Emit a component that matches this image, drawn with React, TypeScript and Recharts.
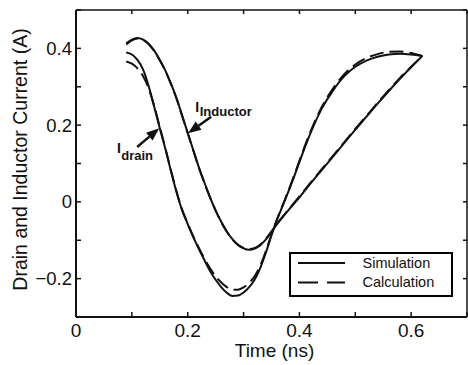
import {
    Legend,
    Line,
    LineChart,
    ReferenceDot,
    ReferenceLine,
    XAxis,
    YAxis
} from "recharts";

// time (ns) / current (A) pairs
const simInductor = [
    [0.09, 0.413], [0.10, 0.423], [0.11, 0.427], [0.12, 0.423], [0.13, 0.412], [0.14, 0.394],
    [0.15, 0.37], [0.16, 0.342], [0.17, 0.308], [0.18, 0.27], [0.19, 0.225], [0.20, 0.18],
    [0.21, 0.135], [0.22, 0.09], [0.23, 0.05], [0.24, 0.012], [0.25, -0.022], [0.26, -0.052],
    [0.27, -0.077], [0.28, -0.097], [0.29, -0.112], [0.30, -0.121], [0.31, -0.125], [0.32, -0.122],
    [0.33, -0.113], [0.34, -0.098], [0.35, -0.078], [0.36, -0.058], [0.38, -0.022], [0.40, 0.012],
    [0.42, 0.048], [0.44, 0.083], [0.46, 0.118], [0.48, 0.153], [0.50, 0.188], [0.52, 0.222],
    [0.54, 0.256], [0.56, 0.289], [0.58, 0.321], [0.60, 0.351], [0.62, 0.38]
];

const calcInductor = [
    [0.09, 0.41], [0.10, 0.421], [0.11, 0.426], [0.12, 0.422], [0.13, 0.411], [0.14, 0.393],
    [0.15, 0.369], [0.16, 0.341], [0.17, 0.307], [0.18, 0.269], [0.19, 0.224], [0.20, 0.179],
    [0.21, 0.134], [0.22, 0.089], [0.23, 0.049], [0.24, 0.011], [0.25, -0.023], [0.26, -0.053],
    [0.27, -0.078], [0.28, -0.098], [0.29, -0.112], [0.30, -0.12], [0.31, -0.123], [0.32, -0.12],
    [0.33, -0.111], [0.34, -0.096], [0.35, -0.077], [0.36, -0.057], [0.38, -0.021], [0.40, 0.014],
    [0.42, 0.05], [0.44, 0.085], [0.46, 0.12], [0.48, 0.155], [0.50, 0.19], [0.52, 0.224],
    [0.54, 0.258], [0.56, 0.291], [0.58, 0.323], [0.60, 0.352], [0.62, 0.38]
];

const simDrain = [
    [0.09, 0.389], [0.10, 0.384], [0.11, 0.37], [0.12, 0.345], [0.13, 0.302], [0.14, 0.248],
    [0.15, 0.192], [0.16, 0.138], [0.17, 0.08], [0.18, 0.025], [0.19, -0.022], [0.20, -0.058],
    [0.21, -0.092], [0.22, -0.123], [0.23, -0.152], [0.24, -0.18], [0.25, -0.203], [0.26, -0.222],
    [0.27, -0.237], [0.28, -0.245], [0.29, -0.244], [0.30, -0.236], [0.31, -0.222], [0.32, -0.202],
    [0.33, -0.172], [0.34, -0.132], [0.35, -0.087], [0.36, -0.046], [0.37, -0.01], [0.38, 0.026],
    [0.39, 0.064], [0.40, 0.104], [0.42, 0.18], [0.44, 0.243], [0.46, 0.29], [0.48, 0.327],
    [0.50, 0.352], [0.52, 0.368], [0.54, 0.378], [0.56, 0.384], [0.58, 0.386], [0.60, 0.384],
    [0.62, 0.38]
];

const calcDrain = [
    [0.09, 0.366], [0.10, 0.36], [0.11, 0.348], [0.12, 0.328], [0.13, 0.296], [0.14, 0.25],
    [0.15, 0.195], [0.16, 0.14], [0.17, 0.082], [0.18, 0.027], [0.19, -0.02], [0.20, -0.056],
    [0.21, -0.09], [0.22, -0.12], [0.23, -0.148], [0.24, -0.173], [0.25, -0.194], [0.26, -0.21],
    [0.27, -0.222], [0.28, -0.229], [0.29, -0.229], [0.30, -0.223], [0.31, -0.211], [0.32, -0.193],
    [0.33, -0.166], [0.34, -0.128], [0.35, -0.085], [0.36, -0.045], [0.37, -0.009], [0.38, 0.028],
    [0.39, 0.067], [0.40, 0.107], [0.42, 0.184], [0.44, 0.247], [0.46, 0.295], [0.48, 0.332],
    [0.50, 0.358], [0.52, 0.375], [0.54, 0.385], [0.56, 0.391], [0.58, 0.392], [0.60, 0.388],
    [0.62, 0.38]
];

const xTicks = [0, 0.1, 0.2, 0.3, 0.4, 0.5, 0.6, 0.7];
const xTickLabels: Record<string, string> = {"0": "0", "0.2": "0.2", "0.4": "0.4", "0.6": "0.6"};
const yTicks = [-0.3, -0.2, -0.1, 0, 0.1, 0.2, 0.3, 0.4, 0.5];
const yTickLabels: Record<string, string> = {"-0.2": "\u22120.2", "0": "0", "0.2": "0.2", "0.4": "0.4"};

const legendItems = [
    {label: "Simulation", dash: undefined},
    {label: "Calculation", dash: "20 9"}
];

// arrow tail -> tip, in data units
const arrows = [
    {from: [0.242, 0.222], to: [0.2005, 0.179]},
    {from: [0.1095, 0.143], to: [0.149, 0.192]}
];

const curveLabels = [
    {main: "I", sub: "Inductor", t: 0.2137, v: 0.235, dy: 4.3},
    {main: "I", sub: "drain", t: 0.0732, v: 0.127, dy: 6.7}
];

const FONT = "'Liberation Sans', Arial, Helvetica, sans-serif";
const INK = "#111";

const toPoints = (rows: number[][]) => rows.map(([t, i]) => ({t, i}));
const blank = () => "";

const ArrowShape = (props: any) => {
    const {x1, y1, x2, y2} = props;
    const dx = x2 - x1;
    const dy = y2 - y1;
    const len = Math.sqrt(dx * dx + dy * dy) || 1;
    const ux = dx / len;
    const uy = dy / len;
    const headLen = 13;
    const half = 5;
    const bx = x2 - ux * headLen;
    const by = y2 - uy * headLen;
    const p1 = `${bx - uy * half},${by + ux * half}`;
    const p2 = `${bx + uy * half},${by - ux * half}`;
    return (
        <g>
            <line x1={x1} y1={y1} x2={bx} y2={by} stroke={INK} strokeWidth={2.5}/>
            <polygon points={`${x2},${y2} ${p1} ${p2}`} fill={INK}/>
        </g>
    );
};

const renderLegend = () => (
    <div style={{border: "2px solid #000", width: 164, height: 45, boxSizing: "border-box", background: "#fff"}}>
        <svg width={160} height={41}>
            {legendItems.map((item, idx) => (
                <g key={item.label}>
                    <line x1={7} x2={54} y1={9 + idx * 19.4} y2={9 + idx * 19.4} stroke={INK} strokeWidth={2}
                          strokeDasharray={item.dash}/>
                    <text x={71.5} y={14 + idx * 19.4} fontSize={14.5} fontFamily={FONT} fill={INK}>{item.label}</text>
                </g>
            ))}
        </svg>
    </div>
);

const App = () => {
    return (
        <div style={{position: "absolute", left: 0, top: 0, width: 468, height: 365, background: "#fff"}}>
            <LineChart width={468} height={365} margin={{top: 9, right: 0, bottom: 0, left: 0}}>
                <XAxis
                    type="number"
                    dataKey="t"
                    domain={[0, 0.7]}
                    ticks={xTicks}
                    interval={0}
                    allowDataOverflow
                    height={48}
                    tickSize={-5}
                    tickMargin={12}
                    tickFormatter={(v) => xTickLabels[String(v)] ?? ""}
                    tick={{fill: INK, fontSize: 19, fontFamily: FONT}}
                    axisLine={{stroke: INK, strokeWidth: 2}}
                    tickLine={{stroke: INK, strokeWidth: 1.5}}
                    label={{
                        content: ({viewBox}: any) => (
                            <text x={viewBox.x + viewBox.width / 2 + 3} y={357} textAnchor="middle"
                                  fontSize={19} fontFamily={FONT} fill={INK}>Time (ns)</text>
                        )
                    }}
                />
                <XAxis
                    xAxisId="top"
                    orientation="top"
                    type="number"
                    dataKey="t"
                    domain={[0, 0.7]}
                    ticks={xTicks}
                    interval={0}
                    allowDataOverflow
                    height={1}
                    tickSize={-4}
                    tickFormatter={blank}
                    axisLine={{stroke: INK, strokeWidth: 1.5}}
                    tickLine={{stroke: INK, strokeWidth: 1.5}}
                />
                <YAxis
                    type="number"
                    domain={[-0.3, 0.5]}
                    ticks={yTicks}
                    interval={0}
                    allowDataOverflow
                    width={76}
                    tickSize={-5}
                    tickMargin={9}
                    tickFormatter={(v) => yTickLabels[String(v)] ?? ""}
                    tick={{fill: INK, fontSize: 18.5, fontFamily: FONT}}
                    axisLine={{stroke: INK, strokeWidth: 2}}
                    tickLine={{stroke: INK, strokeWidth: 1.5}}
                    label={{
                        content: ({viewBox}: any) => (
                            <text transform={`translate(${viewBox.x + 27}, ${viewBox.y + viewBox.height / 2 - 4}) rotate(-90)`}
                                  textAnchor="middle" fontSize={19.5} fontFamily={FONT} fill={INK}>
                                Drain and Inductor Current (A)
                            </text>
                        )
                    }}
                />
                <YAxis
                    yAxisId="right"
                    orientation="right"
                    type="number"
                    domain={[-0.3, 0.5]}
                    ticks={yTicks}
                    interval={0}
                    allowDataOverflow
                    width={1}
                    tickSize={-4}
                    tickFormatter={blank}
                    axisLine={{stroke: INK, strokeWidth: 1.5}}
                    tickLine={{stroke: INK, strokeWidth: 1.5}}
                />
                <Legend layout="vertical" align="center" verticalAlign="middle" content={renderLegend}
                        wrapperStyle={{left: 289, top: 252, width: 164, height: 45}}/>
                <Line data={toPoints(calcInductor)} dataKey="i" type="monotone" stroke={INK} strokeWidth={2}
                      strokeDasharray="14 6" dot={false} activeDot={false} isAnimationActive={false}/>
                <Line data={toPoints(calcDrain)} dataKey="i" type="monotone" stroke={INK} strokeWidth={2}
                      strokeDasharray="14 6" dot={false} activeDot={false} isAnimationActive={false}/>
                <Line data={toPoints(simInductor)} dataKey="i" type="monotone" stroke={INK} strokeWidth={2}
                      dot={false} activeDot={false} isAnimationActive={false}/>
                <Line data={toPoints(simDrain)} dataKey="i" type="monotone" stroke={INK} strokeWidth={2}
                      dot={false} activeDot={false} isAnimationActive={false}/>
                {arrows.map((a, idx) => (
                    <ReferenceLine key={`arrow-${idx}`}
                                   segment={[{x: a.from[0], y: a.from[1]}, {x: a.to[0], y: a.to[1]}]}
                                   shape={ArrowShape}/>
                ))}
                {curveLabels.map((c) => (
                    <ReferenceDot key={c.sub} x={c.t} y={c.v} r={0}
                                  shape={(p: any) => (
                                      <text x={p.cx} y={p.cy} fontFamily={FONT} fill={INK} fontWeight={700}>
                                          <tspan fontSize={14}>{c.main}</tspan>
                                          <tspan fontSize={13} dx={0.5} dy={c.dy}>{c.sub}</tspan>
                                      </text>
                                  )}/>
                ))}
            </LineChart>
        </div>
    );
};

export default App;
